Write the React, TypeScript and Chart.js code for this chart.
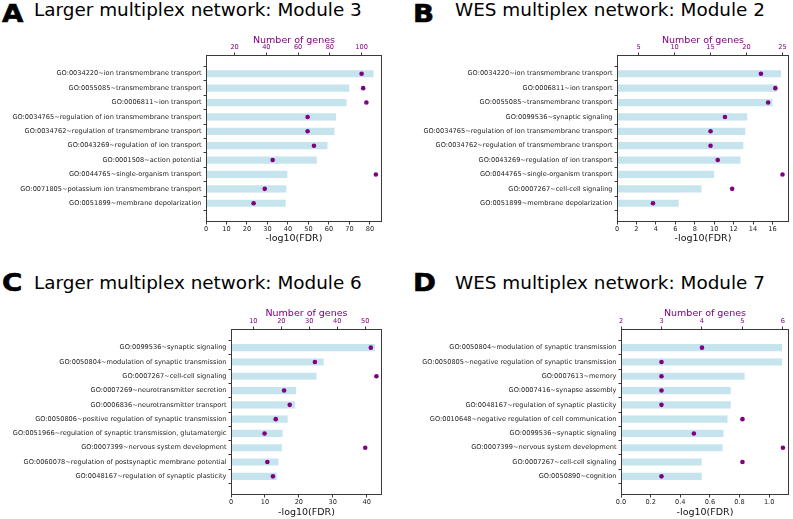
import React, { useEffect, useRef } from 'react';
import { Chart, registerables } from 'chart.js';

Chart.register(...registerables);
Chart.defaults.font.family = "'DejaVu Sans', sans-serif";

const PURPLE = '#800080';
const BAR = 'rgba(173,216,230,0.7)';
const FRAME = '#3a3a3a';
const TEXT = '#222222';

// ---------- Panel A ----------
const labelsA = [
  'GO:0034220~ion transmembrane transport',
  'GO:0055085~transmembrane transport',
  'GO:0006811~ion transport',
  'GO:0034765~regulation of ion transmembrane transport',
  'GO:0034762~regulation of transmembrane transport',
  'GO:0043269~regulation of ion transport',
  'GO:0001508~action potential',
  'GO:0044765~single-organism transport',
  'GO:0071805~potassium ion transmembrane transport',
  'GO:0051899~membrane depolarization',
];
const fdrA = [81.8, 69.9, 68.6, 63.5, 62.7, 59.3, 54.1, 39.7, 39.2, 38.9];
const genesA = [100, 101, 103, 66, 66, 70, 44, 109, 39, 32];
const fdrTicksA = [0, 10, 20, 30, 40, 50, 60, 70, 80];
const geneTicksA = [20, 40, 60, 80, 100];
const fdrMaxA = 85.9;
const geneMinA = 2;
const geneMaxA = 112.85;

// ---------- Panel B ----------
const labelsB = [
  'GO:0034220~ion transmembrane transport',
  'GO:0006811~ion transport',
  'GO:0055085~transmembrane transport',
  'GO:0099536~synaptic signaling',
  'GO:0034765~regulation of ion transmembrane transport',
  'GO:0034762~regulation of transmembrane transport',
  'GO:0043269~regulation of ion transport',
  'GO:0044765~single-organism transport',
  'GO:0007267~cell-cell signaling',
  'GO:0051899~membrane depolarization',
];
const fdrB = [16.87, 16.5, 16.0, 13.4, 13.2, 13.0, 12.7, 10.0, 8.7, 6.35];
const genesB = [22, 24, 23, 17, 15, 15, 16, 25, 18, 7];
const fdrTicksB = [0, 2, 4, 6, 8, 10, 12, 14, 16];
const geneTicksB = [5, 10, 15, 20, 25];
const fdrMaxB = 17.7;
const geneMinB = 2;
const geneMaxB = 25.9;

// ---------- Panel C ----------
const labelsC = [
  'GO:0099536~synaptic signaling',
  'GO:0050804~modulation of synaptic transmission',
  'GO:0007267~cell-cell signaling',
  'GO:0007269~neurotransmitter secretion',
  'GO:0006836~neurotransmitter transport',
  'GO:0050806~positive regulation of synaptic transmission',
  'GO:0051966~regulation of synaptic transmission, glutamatergic',
  'GO:0007399~nervous system development',
  'GO:0060078~regulation of postsynaptic membrane potential',
  'GO:0048167~regulation of synaptic plasticity',
];
const fdrC = [42.4, 27.3, 25.2, 19.2, 18.9, 16.7, 15.2, 15.0, 14.0, 13.5];
const genesC = [52, 32, 54, 21, 23, 18, 14, 50, 15, 17];
const fdrTicksC = [0, 10, 20, 30, 40];
const geneTicksC = [10, 20, 30, 40, 50];
const fdrMaxC = 44.5;
const geneMinC = 2;
const geneMaxC = 56;

// ---------- Panel D ----------
const labelsD = [
  'GO:0050804~modulation of synaptic transmission',
  'GO:0050805~negative regulation of synaptic transmission',
  'GO:0007613~memory',
  'GO:0007416~synapse assembly',
  'GO:0048167~regulation of synaptic plasticity',
  'GO:0010648~negative regulation of cell communication',
  'GO:0099536~synaptic signaling',
  'GO:0007399~nervous system development',
  'GO:0007267~cell-cell signaling',
  'GO:0050890~cognition',
];
const fdrD = [1.087, 1.087, 0.835, 0.741, 0.741, 0.719, 0.692, 0.685, 0.545, 0.545];
const genesD = [4, 3, 3, 3, 3, 5, 3.8, 6, 5, 3];
const fdrTicksD = [0, 0.2, 0.4, 0.6, 0.8, 1.0];
const geneTicksD = [2, 3, 4, 5, 6];
const fdrMaxD = 1.134;
const geneMinD = 2;
const geneMaxD = 6.15;

type Layout = {
  left: number; top: number; width: number; height: number;
  plotLeft: number; plotTop: number; plotRight: number; plotBottom: number;
};

type Panel = {
  letter: string;
  title: string;
  labels: string[];
  fdr: number[];
  genes: number[];
  fdrTicks: number[];
  geneTicks: number[];
  fdrMax: number;
  geneMin: number;
  geneMax: number;
  decimals: number;
  layout: Layout;
  letterPos: { left: number; top: number };
  titlePos: { left: number; top: number };
};

const panels: Panel[] = [
  {
    letter: 'A', title: 'Larger multiplex network: Module 3',
    labels: labelsA, fdr: fdrA, genes: genesA, fdrTicks: fdrTicksA, geneTicks: geneTicksA,
    fdrMax: fdrMaxA, geneMin: geneMinA, geneMax: geneMaxA, decimals: 0,
    layout: { left: 0, top: 30, width: 395, height: 215, plotLeft: 206, plotTop: 55, plotRight: 382, plotBottom: 222 },
    letterPos: { left: 2, top: 2.4 }, titlePos: { left: 34, top: 1.1 },
  },
  {
    letter: 'B', title: 'WES multiplex network: Module 2',
    labels: labelsB, fdr: fdrB, genes: genesB, fdrTicks: fdrTicksB, geneTicks: geneTicksB,
    fdrMax: fdrMaxB, geneMin: geneMinB, geneMax: geneMaxB, decimals: 0,
    layout: { left: 400, top: 30, width: 393, height: 215, plotLeft: 617, plotTop: 55, plotRight: 792, plotBottom: 222 },
    letterPos: { left: 413, top: 2.4 }, titlePos: { left: 455, top: 1.1 },
  },
  {
    letter: 'C', title: 'Larger multiplex network: Module 6',
    labels: labelsC, fdr: fdrC, genes: genesC, fdrTicks: fdrTicksC, geneTicks: geneTicksC,
    fdrMax: fdrMaxC, geneMin: geneMinC, geneMax: geneMaxC, decimals: 0,
    layout: { left: 0, top: 303, width: 395, height: 216, plotLeft: 231, plotTop: 329, plotRight: 382, plotBottom: 495 },
    letterPos: { left: 2, top: 271.2 }, titlePos: { left: 34, top: 274.4 },
  },
  {
    letter: 'D', title: 'WES multiplex network: Module 7',
    labels: labelsD, fdr: fdrD, genes: genesD, fdrTicks: fdrTicksD, geneTicks: geneTicksD,
    fdrMax: fdrMaxD, geneMin: geneMinD, geneMax: geneMaxD, decimals: 1,
    layout: { left: 400, top: 303, width: 393, height: 216, plotLeft: 621, plotTop: 329, plotRight: 791, plotBottom: 495 },
    letterPos: { left: 413, top: 271.2 }, titlePos: { left: 455, top: 274.4 },
  },
];

const framePlugin = {
  id: 'frame',
  afterDraw(chart: any) {
    const { ctx, chartArea: a } = chart;
    ctx.save();
    ctx.strokeStyle = FRAME;
    ctx.lineWidth = 1;
    const l = Math.round(a.left) + 0.5;
    const t = Math.round(a.top) + 0.5;
    const r = Math.round(a.right) - 0.5;
    const b = Math.round(a.bottom) - 0.5;
    ctx.strokeRect(l, t, r - l, b - t);
    ctx.restore();
  },
};

function buildConfig(p: Panel): any {
  const L = p.layout;
  const n = p.labels.length;
  const tickFont = { size: 6.6 };
  return {
    type: 'bar',
    data: {
      datasets: [
        {
          type: 'bar',
          data: p.fdr.map((v, i) => ({ x: v, y: i })),
          backgroundColor: BAR,
          borderWidth: 0,
          barPercentage: 0.5,
          categoryPercentage: 1,
          xAxisID: 'x',
          yAxisID: 'y',
          order: 2,
        },
        {
          type: 'scatter',
          data: p.genes.map((v, i) => ({ x: v, y: i })),
          backgroundColor: PURPLE,
          borderColor: PURPLE,
          borderWidth: 0,
          pointRadius: 2.3,
          xAxisID: 'x2',
          yAxisID: 'y',
          order: 1,
        },
      ],
    },
    options: {
      responsive: false,
      animation: false,
      indexAxis: 'y',
      layout: { padding: { left: 0, top: 0, bottom: 0, right: L.left + L.width - L.plotRight } },
      plugins: { legend: { display: false }, tooltip: { enabled: false } },
      scales: {
        y: {
          type: 'linear',
          reverse: true,
          bounds: 'data',
          min: -0.725,
          max: n - 1 + 0.725,
          afterBuildTicks: (s: any) => { s.ticks = p.labels.map((_, i) => ({ value: i })); },
          afterFit: (s: any) => { s.width = L.plotLeft - L.left; },
          ticks: { autoSkip: false, padding: 2, color: TEXT, font: tickFont, callback: (v: any) => p.labels[v] },
          grid: { drawOnChartArea: false, tickLength: 2.5, color: FRAME },
          border: { display: false },
        },
        x: {
          type: 'linear',
          position: 'bottom',
          bounds: 'data',
          min: 0,
          max: p.fdrMax,
          afterBuildTicks: (s: any) => { s.ticks = p.fdrTicks.map((v) => ({ value: v })); },
          afterFit: (s: any) => { s.height = L.top + L.height - L.plotBottom; },
          ticks: { autoSkip: false, maxRotation: 0, padding: 1, color: TEXT, font: tickFont, callback: (v: any) => Number(v).toFixed(p.decimals) },
          grid: { drawOnChartArea: false, tickLength: 2.5, color: FRAME },
          border: { display: false },
          title: { display: true, text: '-log10(FDR)', color: '#111', font: { size: 9.5 }, padding: { top: 0, bottom: 1 } },
        },
        x2: {
          type: 'linear',
          position: 'top',
          bounds: 'data',
          min: p.geneMin,
          max: p.geneMax,
          afterBuildTicks: (s: any) => { s.ticks = p.geneTicks.map((v) => ({ value: v })); },
          afterFit: (s: any) => { s.height = L.plotTop - L.top; },
          ticks: { autoSkip: false, maxRotation: 0, padding: 1, color: PURPLE, font: tickFont, callback: (v: any) => String(v) },
          grid: { drawOnChartArea: false, tickLength: 2.5, color: FRAME },
          border: { display: false },
          title: { display: true, text: 'Number of genes', color: PURPLE, font: { size: 9.5 }, padding: { top: 5, bottom: 0 } },
        },
      },
    },
    plugins: [framePlugin],
  };
}

function PanelChart({ p }: { p: Panel }) {
  const ref = useRef<HTMLCanvasElement | null>(null);
  useEffect(() => {
    if (!ref.current) return;
    const chart = new Chart(ref.current, buildConfig(p));
    return () => chart.destroy();
  }, [p]);
  const L = p.layout;
  return (
    <canvas
      ref={ref}
      width={L.width}
      height={L.height}
      style={{ position: 'absolute', left: L.left, top: L.top, width: L.width, height: L.height }}
    />
  );
}

export default function App() {
  return (
    <div style={{ position: 'absolute', left: 0, top: 0, width: 793, height: 519, background: '#fff', overflow: 'hidden' }}>
      {panels.map((p) => (
        <React.Fragment key={p.letter}>
          <div
            style={{
              position: 'absolute', left: p.letterPos.left, top: p.letterPos.top,
              fontFamily: "'DejaVu Sans', sans-serif", fontWeight: 'bold', fontSize: 24, lineHeight: 1,
              color: '#000', whiteSpace: 'nowrap',
              transform: 'scaleX(1.15)', transformOrigin: 'left top',
              WebkitTextStroke: '0.6px #000',
            }}
          >
            {p.letter}
          </div>
          <div
            style={{
              position: 'absolute', left: p.titlePos.left, top: p.titlePos.top,
              fontFamily: "'DejaVu Sans', sans-serif", fontSize: 18.4, lineHeight: 1,
              color: '#000', whiteSpace: 'nowrap',
            }}
          >
            {p.title}
          </div>
          <PanelChart p={p} />
        </React.Fragment>
      ))}
    </div>
  );
}
